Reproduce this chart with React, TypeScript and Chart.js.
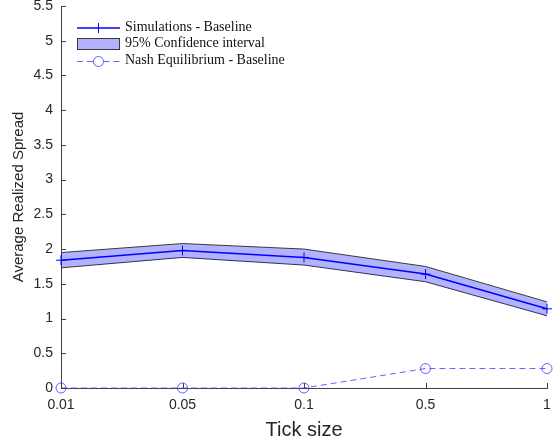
import React, { useEffect, useRef } from "react";
import { Chart, registerables } from "chart.js";

Chart.register(...registerables);

const tickLabels = ["0.01", "0.05", "0.1", "0.5", "1"];
const simValues = [1.84, 1.98, 1.88, 1.64, 1.14];
const ciUpper = [1.95, 2.08, 2.0, 1.75, 1.24];
const ciLower = [1.73, 1.88, 1.77, 1.53, 1.04];
const nashValues = [0, 0, 0, 0.28, 0.28];
const yMin = 0;
const yMax = 5.5;
const yStep = 0.5;

const legendLabels = [
  "Simulations - Baseline",
  "95% Confidence interval",
  "Nash Equilibrium - Baseline",
];

const AXIS_COLOR = "#404040";
const TEXT_COLOR = "#262626";
const SIM_COLOR = "#0000ff";
const BAND_FILL = "rgba(0,0,255,0.3)";
const BAND_EDGE = "#3a3a3a";
const NASH_COLOR = "rgba(60,60,255,0.8)";

const inwardTicks = {
  id: "inwardTicks",
  afterDraw(chart: any) {
    const ctx = chart.ctx;
    const xs = chart.scales.x;
    const ys = chart.scales.y;
    const area = chart.chartArea;
    ctx.save();
    ctx.strokeStyle = AXIS_COLOR;
    ctx.lineWidth = 1;
    xs.ticks.forEach((_t: any, i: number) => {
      const x = Math.round(xs.getPixelForTick(i)) + 0.5;
      ctx.beginPath();
      ctx.moveTo(x, area.bottom);
      ctx.lineTo(x, area.bottom - 5);
      ctx.stroke();
    });
    ys.ticks.forEach((t: any) => {
      const y = Math.round(ys.getPixelForValue(t.value)) + 0.5;
      ctx.beginPath();
      ctx.moveTo(area.left, y);
      ctx.lineTo(area.left + 5, y);
      ctx.stroke();
    });
    ctx.restore();
  },
};

const customLegend = {
  id: "customLegend",
  afterDraw(chart: any) {
    const ctx = chart.ctx;
    const x0 = 77;
    const x1 = 120;
    const xm = (x0 + x1) / 2;
    const tx = 125;
    const rows = [28, 44, 61];
    ctx.save();
    // Row 1: line with plus marker
    ctx.strokeStyle = SIM_COLOR;
    ctx.lineWidth = 1.5;
    ctx.beginPath();
    ctx.moveTo(x0, rows[0]);
    ctx.lineTo(x1, rows[0]);
    ctx.stroke();
    ctx.lineWidth = 1;
    ctx.beginPath();
    ctx.moveTo(xm, rows[0] - 5);
    ctx.lineTo(xm, rows[0] + 5);
    ctx.stroke();
    // Row 2: patch
    ctx.fillStyle = BAND_FILL;
    ctx.fillRect(x0, rows[1] - 6, x1 - x0, 12);
    ctx.strokeStyle = BAND_EDGE;
    ctx.lineWidth = 1;
    ctx.strokeRect(x0 + 0.5, rows[1] - 5.5, x1 - x0 - 1, 11);
    // Row 3: dashed line with circle
    ctx.strokeStyle = NASH_COLOR;
    ctx.lineWidth = 1;
    ctx.setLineDash([6, 4]);
    ctx.beginPath();
    ctx.moveTo(x0, rows[2] + 0.5);
    ctx.lineTo(xm - 5, rows[2] + 0.5);
    ctx.moveTo(xm + 5, rows[2] + 0.5);
    ctx.lineTo(x1, rows[2] + 0.5);
    ctx.stroke();
    ctx.setLineDash([]);
    ctx.beginPath();
    ctx.arc(xm, rows[2] + 0.5, 5, 0, Math.PI * 2);
    ctx.stroke();
    // Text
    ctx.fillStyle = "#111111";
    ctx.font = "14px 'Liberation Serif', 'DejaVu Serif', serif";
    ctx.textBaseline = "middle";
    ctx.textAlign = "left";
    legendLabels.forEach((l, i) => ctx.fillText(l, tx, rows[i] - 1));
    ctx.restore();
  },
};

export default function App() {
  const ref = useRef<HTMLCanvasElement | null>(null);
  useEffect(() => {
    if (!ref.current) return;
    const chart = new Chart(ref.current, {
      type: "line",
      data: {
        labels: tickLabels,
        datasets: [
          {
            label: legendLabels[0],
            data: simValues,
            borderColor: SIM_COLOR,
            borderWidth: 1.5,
            pointStyle: "cross",
            pointRadius: 5,
            pointBorderWidth: 1,
            pointBorderColor: SIM_COLOR,
            pointBackgroundColor: SIM_COLOR,
            fill: false,
            tension: 0,
            order: 0,
            clip: false,
          },
          {
            label: legendLabels[2],
            data: nashValues,
            borderColor: NASH_COLOR,
            borderWidth: 1,
            borderDash: [6, 4],
            pointStyle: "circle",
            pointRadius: 5,
            pointBorderWidth: 1,
            pointBorderColor: NASH_COLOR,
            pointBackgroundColor: "rgba(0,0,0,0)",
            fill: false,
            tension: 0,
            order: 1,
            clip: false,
          },
          {
            label: legendLabels[1],
            data: ciUpper,
            borderColor: BAND_EDGE,
            borderWidth: 1,
            pointRadius: 0,
            backgroundColor: BAND_FILL,
            fill: "+1",
            tension: 0,
            order: 2,
          },
          {
            label: "ci-lower",
            data: ciLower,
            borderColor: BAND_EDGE,
            borderWidth: 1,
            pointRadius: 0,
            fill: false,
            tension: 0,
            order: 3,
          },
        ],
      },
      options: {
        responsive: false,
        animation: false,
        devicePixelRatio: 1,
        layout: { padding: { left: 0, top: 6, right: 12, bottom: 0 } },
        plugins: {
          legend: { display: false },
          tooltip: { enabled: false },
        },
        scales: {
          x: {
            type: "category",
            offset: false,
            grid: { display: true, drawOnChartArea: false, drawTicks: false },
            border: { display: true, color: AXIS_COLOR, width: 1 },
            ticks: {
              padding: 9,
              color: TEXT_COLOR,
              font: { family: "'Liberation Sans', Arial, sans-serif", size: 14 },
              maxRotation: 0,
              autoSkip: false,
            },
            title: {
              display: true,
              text: "Tick size",
              color: TEXT_COLOR,
              font: { family: "'Liberation Sans', Arial, sans-serif", size: 20 },
              padding: { top: 0, bottom: 4 },
            },
            afterFit: (s: any) => {
              s.height = 58;
              s.paddingLeft = 0;
              s.paddingRight = 0;
            },
          },
          y: {
            min: yMin,
            max: yMax,
            grid: { display: true, drawOnChartArea: false, drawTicks: false },
            border: { display: true, color: AXIS_COLOR, width: 1 },
            ticks: {
              stepSize: yStep,
              padding: 8,
              color: TEXT_COLOR,
              font: { family: "'Liberation Sans', Arial, sans-serif", size: 14 },
              callback: (v: any) => String(Number(v)),
            },
            title: {
              display: true,
              text: "Average Realized Spread",
              color: TEXT_COLOR,
              font: { family: "'Liberation Sans', Arial, sans-serif", size: 15 },
              padding: { top: 10, bottom: 0 },
            },
            afterFit: (s: any) => {
              s.width = 61;
              s.paddingTop = 0;
              s.paddingBottom = 0;
            },
          },
        },
      },
      plugins: [inwardTicks, customLegend],
    } as any);
    return () => chart.destroy();
  }, []);
  return (
    <div style={{ position: "absolute", left: 0, top: 0, width: 559, height: 446, background: "#ffffff" }}>
      <canvas ref={ref} width={559} height={446} style={{ display: "block" }} />
    </div>
  );
}
